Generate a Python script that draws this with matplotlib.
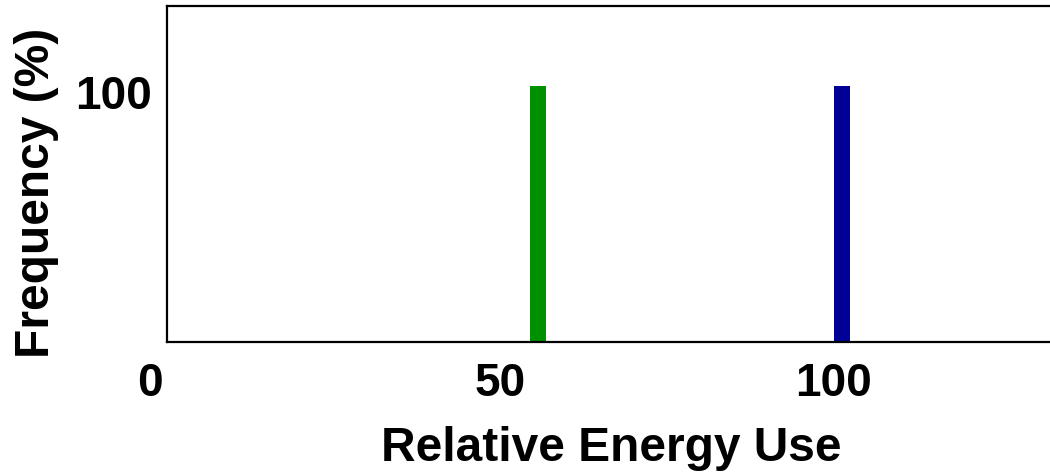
import matplotlib
matplotlib.use("Agg")
import matplotlib.pyplot as plt
import matplotlib.transforms as mtransforms

# Data
energy_values = [54.5, 100.0]       # relative energy use (left bin edge)
frequencies = [100, 100]            # frequency (%)
bar_colors = ["#009100", "#000096"]
x_ticks = [0, 50, 100]
x_tick_labels = ["0", "50", "100"]
y_ticks = [100]
y_tick_labels = ["100"]

W, H = 1050, 477
fig = plt.figure(figsize=(W / 100, H / 100), dpi=100)
fig.patch.set_facecolor("white")

ax_left, ax_right, ax_top, ax_bottom = 167, 1075, 7, 343
ax = fig.add_axes([ax_left / W, 1 - ax_bottom / H,
                   (ax_right - ax_left) / W, (ax_bottom - ax_top) / H])

px_per_x = 6.66
ax.set_xlim(-(ax_left + 1 - 168) / px_per_x, (ax_right - 168) / px_per_x)
px_per_y = (343 - 87.5) / 100.0
ax.set_ylim(0, (343 - 7) / px_per_y)

ax.bar(energy_values, frequencies, width=2.4, align="edge",
       color=bar_colors, edgecolor="none")

font = ["Liberation Sans", "DejaVu Sans"]
ax.set_xticks(x_ticks)
ax.set_xticklabels(x_tick_labels, fontsize=33, fontweight="bold", family=font)
ax.set_yticks(y_ticks)
ax.set_yticklabels(y_tick_labels, fontsize=33, fontweight="bold", family=font)
ax.tick_params(axis="both", length=0)
ax.tick_params(axis="x", pad=14)
ax.tick_params(axis="y", pad=11)

# shift labels to match the reference placement
for lbl in ax.get_xticklabels():
    if lbl.get_text() == "0":
        lbl.set_transform(lbl.get_transform() +
                          mtransforms.ScaledTranslation(-17 / 100, 0, fig.dpi_scale_trans))
for lbl in ax.get_yticklabels():
    lbl.set_transform(lbl.get_transform() +
                      mtransforms.ScaledTranslation(0, -5 / 100, fig.dpi_scale_trans))

for side in ["left", "top", "bottom"]:
    ax.spines[side].set_linewidth(1.6)
    ax.spines[side].set_color("black")
ax.spines["right"].set_visible(False)

fig.text(611 / W, 1 - 449 / H, "Relative Energy Use", ha="center", va="center",
         fontsize=34.5, fontweight="bold", family=font)
fig.text(37 / W, 1 - 193 / H, "Frequency (%)", ha="center", va="center",
         rotation=90, fontsize=34.5, fontweight="bold", family=font)

fig.savefig("out.png", dpi=100, facecolor="white")
